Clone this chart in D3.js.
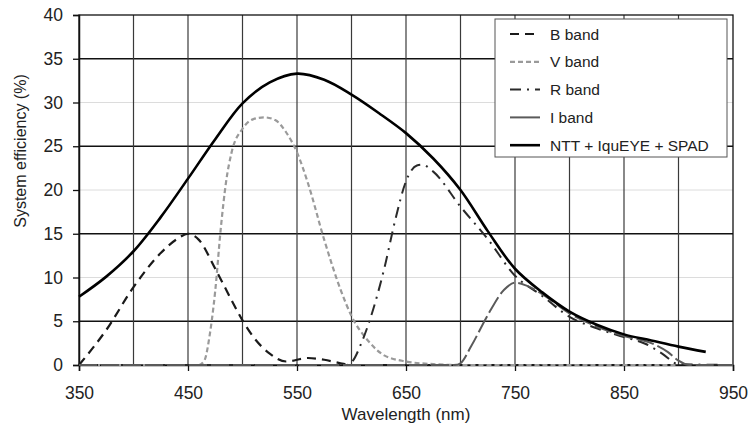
<!DOCTYPE html>
<html>
<head>
<meta charset="utf-8">
<script src="https://cdn.jsdelivr.net/npm/d3@7"></script>
<style>
  html, body { margin: 0; padding: 0; background: #fff; }
  svg { display: block; font-family: "Liberation Sans", Arial, sans-serif; }
</style>
</head>
<body>
<svg id="chart" width="752" height="432"></svg>
<script>
// ---- data ----
const xTicks = [350, 450, 550, 650, 750, 850, 950];
const yTicks = [0, 5, 10, 15, 20, 25, 30, 35, 40];

const bandNames = ["B band", "V band", "R band", "I band", "NTT + IquEYE + SPAD"];

const totalWl  = [350,375,400,425,450,475,500,525,550,575,600,625,650,675,700,725,750,775,800,825,850,875,900,925];
const totalEff = [7.8,10.1,13.0,16.9,21.3,25.8,29.9,32.3,33.3,32.6,30.9,28.8,26.5,23.6,20.0,15.3,11.0,8.3,6.1,4.6,3.5,2.8,2.1,1.5];

const bWl  = [350,375,400,425,440,450,460,475,490,500,510,525,540,560,575,590,600,900];
const bEff = [0,4.0,8.9,12.8,14.4,15.0,14.3,11.0,7.4,5.1,3.2,1.3,0.4,0.8,0.6,0.2,0,0];

const vWl  = [350,460,465,470,475,480,485,490,500,510,520,530,540,550,560,575,590,600,615,630,650,675,700,900];
const vEff = [0,0,0.5,3.5,8.5,15.5,21.0,24.3,27.0,28.1,28.3,28.0,26.6,24.3,20.8,14.3,8.6,5.6,2.8,1.1,0.4,0.1,0,0];

const rWl  = [350,595,600,610,620,630,640,650,660,665,675,700,725,750,775,800,825,850,870,885,900,950];
const rEff = [0,0,0.3,2.8,6.4,11.0,16.5,21.0,22.8,22.9,22.1,18.1,14.4,10.2,7.9,5.5,4.2,3.2,2.4,1.3,0.1,0];

const iWl  = [350,695,700,710,725,740,750,760,775,800,825,850,875,890,900,910,950];
const iEff = [0,0,0.2,2.2,5.7,8.6,9.4,9.1,8.1,5.9,4.4,3.3,2.5,1.5,0.5,0,0];

// ---- layout ----
const svg = d3.select("#chart");
const L = 79, R = 733, T = 15, B = 365;
const x = d3.scaleLinear().domain([350, 950]).range([L, R]);
const y = d3.scaleLinear().domain([0, 40]).range([B, T]);

// grid: horizontal
const hGrid = d3.range(5, 40, 5);
svg.append("g").selectAll("line").data(hGrid).join("line")
  .attr("x1", L).attr("x2", R)
  .attr("y1", d => y(d)).attr("y2", d => y(d))
  .attr("stroke", d => (d % 10 === 5) ? "#111" : "#dcdcdc")
  .attr("stroke-width", d => (d % 10 === 5) ? 1.3 : 1);

// grid: vertical
const vGrid = d3.range(400, 950, 50);
svg.append("g").selectAll("line").data(vGrid).join("line")
  .attr("x1", d => x(d)).attr("x2", d => x(d))
  .attr("y1", T).attr("y2", B)
  .attr("stroke", "#3a3a3a").attr("stroke-width", 1.2);

// frame
svg.append("rect").attr("x", L).attr("y", T).attr("width", R - L).attr("height", B - T)
  .attr("fill", "none").attr("stroke", "#111").attr("stroke-width", 1.3);

// axes
const xAxis = d3.axisBottom(x).tickValues(xTicks).tickSize(6).tickPadding(16).tickFormat(d3.format("d"));
const gx = svg.append("g").attr("transform", `translate(0,${B})`).call(xAxis);
gx.select(".domain").attr("stroke", "#111").attr("stroke-width", 1.5);
gx.selectAll(".tick line").attr("stroke", "#111").attr("stroke-width", 1.3);
gx.selectAll("text").attr("font-size", 17.5).attr("fill", "#222").attr("font-family", "Liberation Sans, Arial, sans-serif");

const yAxis = d3.axisLeft(y).tickValues(yTicks).tickSize(6).tickPadding(10).tickFormat(d3.format("d"));
const gy = svg.append("g").attr("transform", `translate(${L},0)`).call(yAxis);
gy.select(".domain").attr("stroke", "#111").attr("stroke-width", 1.5);
gy.selectAll(".tick line").attr("stroke", "#111").attr("stroke-width", 1.3);
gy.selectAll("text").attr("font-size", 17.5).attr("fill", "#222").attr("font-family", "Liberation Sans, Arial, sans-serif");

// axis titles
svg.append("text").attr("x", (L + R) / 2).attr("y", 420).attr("text-anchor", "middle")
  .attr("font-size", 17).attr("fill", "#222").text("Wavelength (nm)");
svg.append("text").attr("transform", "translate(26,151) rotate(-90)").attr("text-anchor", "middle")
  .attr("font-size", 16).attr("fill", "#222").text("System efficiency (%)");

// ---- series ----
const styles = [
  { color: "#1a1a1a", width: 2.2, dash: "9,6",       legendDash: "9,6" },
  { color: "#9a9a9a", width: 2.2, dash: "5,3",       legendDash: "5,3" },
  { color: "#2a2a2a", width: 2.0, dash: "11,6,2,6",  legendDash: "11,6,2,6" },
  { color: "#5a5a5a", width: 2.0, dash: "18,4",      legendDash: null },
  { color: "#000000", width: 2.6, dash: null,        legendDash: null }
];
const seriesData = [
  d3.zip(bWl, bEff), d3.zip(vWl, vEff), d3.zip(rWl, rEff), d3.zip(iWl, iEff), d3.zip(totalWl, totalEff)
];
const bandLine = d3.line().x(d => x(d[0])).y(d => y(d[1])).curve(d3.curveMonotoneX);
const smoothLine = d3.line().x(d => x(d[0])).y(d => y(d[1])).curve(d3.curveCatmullRom.alpha(0.5));

const plot = svg.append("g");
seriesData.forEach((s, i) => {
  plot.append("path").datum(s)
    .attr("d", i === 4 ? smoothLine : bandLine)
    .attr("fill", "none")
    .attr("stroke", styles[i].color)
    .attr("stroke-width", styles[i].width)
    .attr("stroke-dasharray", styles[i].dash)
    .attr("stroke-linejoin", "round");
});

// ---- legend ----
const lg = svg.append("g");
lg.append("rect").attr("x", 495).attr("y", 19).attr("width", 232).attr("height", 138)
  .attr("fill", "#fff").attr("stroke", "#555").attr("stroke-width", 1);
bandNames.forEach((name, i) => {
  const yy = 34 + i * 27.8;
  lg.append("line").attr("x1", 510).attr("x2", 540).attr("y1", yy).attr("y2", yy)
    .attr("stroke", styles[i].color).attr("stroke-width", styles[i].width)
    .attr("stroke-dasharray", styles[i].legendDash);
  lg.append("text").attr("x", 550).attr("y", yy + 5.5).attr("font-size", 15.5).attr("fill", "#222").text(name);
});
</script>
</body>
</html>
